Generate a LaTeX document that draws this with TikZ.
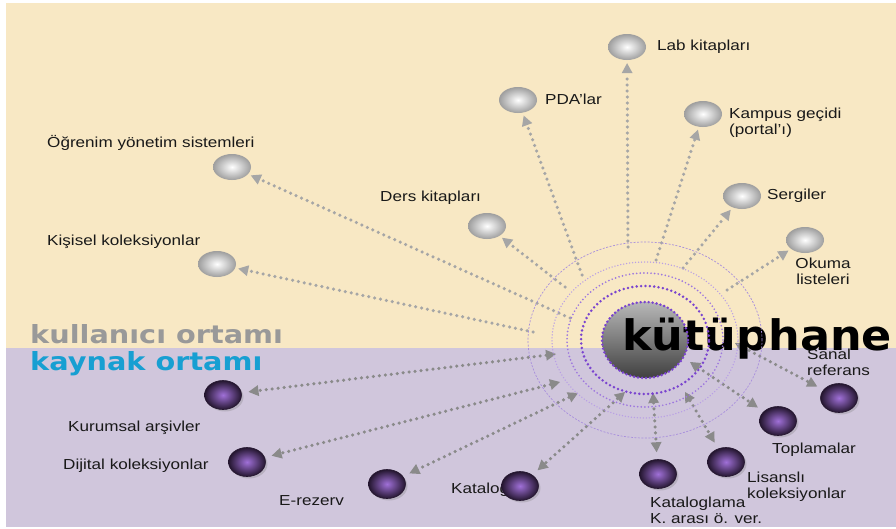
\documentclass[tikz,border=0pt]{standalone}
\usepackage{fontspec}
\usetikzlibrary{shapes.geometric,arrows.meta,shadows}
\newfontfamily\lblfont[FakeStretch=1.18]{Liberation Sans}
\newfontfamily\ttlfont[FakeStretch=1.15]{DejaVu Sans}
\newfontfamily\bigfont[FakeStretch=1.06]{DejaVu Sans}
\definecolor{creambg}{HTML}{F8E8C4}
\definecolor{lavbg}{HTML}{D0C6DC}
\definecolor{ttlgray}{HTML}{999999}
\definecolor{ttlcyan}{HTML}{179FD2}
\definecolor{dotup}{HTML}{A6A6A6}
\definecolor{dotlow}{HTML}{8A8A8A}
\definecolor{purphi}{HTML}{A070D8}
\definecolor{purplo}{HTML}{24162F}
\definecolor{ringout}{HTML}{A88EDC}
\definecolor{ringlt}{HTML}{B89EE6}
\definecolor{ringmid}{HTML}{9E78DE}
\definecolor{ringdk}{HTML}{7A44CF}

\begin{document}
\begin{tikzpicture}[x=1pt, y=-1pt,
  lbl/.style={font=\lblfont\fontsize{14.5}{16}\selectfont, inner sep=0pt,
    anchor=base west, text=black!90, align=left},
  ttl/.style={font=\ttlfont\bfseries\fontsize{25}{25}\selectfont, inner sep=0pt,
    anchor=base west},
  upball/.style={ellipse, minimum width=38pt, minimum height=26pt, inner sep=0pt,
    inner color=white, outer color=black!38},
  lowball/.style={ellipse, minimum width=37pt, minimum height=29pt, inner sep=0pt,
    inner color=purphi, outer color=purplo, draw=purplo, line width=0.6pt,
    drop shadow={shadow xshift=2pt, shadow yshift=-2pt, opacity=0.3}},
  cball/.style={ellipse, minimum width=86pt, minimum height=76pt, inner sep=0pt,
    top color=black!28, bottom color=black!75},
  dots/.style={line width=3.5pt, dash pattern=on 0pt off 6pt, line cap=round},
  uparr/.style={dots, color=dotup, -{Triangle[length=10pt, width=11pt, line width=0pt]},
    shorten >=3pt},
  lowarr/.style={dots, color=dotlow,
    {Triangle[length=10pt, width=11pt, line width=0pt]}-{Triangle[length=10pt, width=11pt, line width=0pt]},
    shorten >=7pt},
]
\useasboundingbox (0,0) rectangle (896,528);
\fill[creambg] (6,3) rectangle (896,348);
\fill[lavbg] (6,348) rectangle (896,527);

\node[ttl, text=ttlgray] (usr) at (30,343) {kullanıcı ortamı};
\node[ttl, text=ttlcyan] (src) at (30,370) {kaynak ortamı};

% user side
\node[upball] (ogr)   at (232,167) {};
\node[upball] (kis)   at (217,264) {};
\node[upball] (ders)  at (487,226) {};
\node[upball] (pda)   at (518,100) {};
\node[upball] (lab)   at (627,47)  {};
\node[upball] (kamp)  at (703,114) {};
\node[upball] (serg)  at (742,196) {};
\node[upball] (okuma) at (805,240) {};

\node[lbl] (l-ogr)   at (47,147)  {Öğrenim yönetim sistemleri};
\node[lbl] (l-kis)   at (47,245)  {Kişisel koleksiyonlar};
\node[lbl] (l-ders)  at (380,201) {Ders kitapları};
\node[lbl] (l-pda)   at (545,104) {PDA’lar};
\node[lbl] (l-lab)   at (657,50)  {Lab kitapları};
\node[lbl] (l-kamp)  at (729,134) {Kampus geçidi\\(portal’ı)};
\node[lbl] (l-serg)  at (767,199) {Sergiler};
\node[lbl, anchor=base, align=center] (l-okuma) at (823,284) {Okuma\\listeleri};

% resource side
\node[lbl] (l-kurum)   at (68,431)  {Kurumsal arşivler};
\node[lbl] (l-dij)     at (63,469)  {Dijital koleksiyonlar};
\node[lbl] (l-erez)    at (279,505) {E-rezerv};
\node[lbl] (l-katalog) at (451,493) {Katalog};
\node[lbl] (l-katlama) at (650,523) {Kataloglama\\K. arası ö. ver.};
\node[lbl] (l-lisans)  at (747,498) {Lisanslı\\koleksiyonlar};
\node[lbl] (l-topla)   at (772,453) {Toplamalar};
\node[lbl] (l-sanal)   at (807,375) {Sanal\\referans};

\node[lowball] (kurum)   at (223,395) {};
\node[lowball] (dij)     at (247,462) {};
\node[lowball] (erez)    at (387,484) {};
\node[lowball] (katalog) at (520,486) {};
\node[lowball] (katlama) at (658,474) {};
\node[lowball] (lisans)  at (726,462) {};
\node[lowball] (topla)   at (778,421) {};
\node[lowball] (sanal)   at (839,398) {};

\coordinate (c-ogr)   at (570,318);
\coordinate (c-kis)   at (533,332);
\coordinate (c-ders)  at (565,287);
\coordinate (c-pda)   at (582,275);
\coordinate (c-lab)   at (628,247);
\coordinate (c-kamp)  at (656,260);
\coordinate (c-serg)  at (683,268);
\coordinate (c-okuma) at (727,290);

\coordinate (c-kurum)   at (556,354);
\coordinate (c-dij)     at (560,382);
\coordinate (c-erez)    at (578,393);
\coordinate (c-katalog) at (625,392);
\coordinate (c-katlama) at (653,393);
\coordinate (c-lisans)  at (685,392);
\coordinate (c-topla)   at (690,362);
\coordinate (c-sanal)   at (735,343);

\path[uparr] (c-ogr) edge (ogr) (c-kis) edge (kis) (c-ders) edge (ders)
  (c-pda) edge (pda) (c-lab) edge (lab) (c-kamp) edge (kamp)
  (c-serg) edge (serg) (c-okuma) edge (okuma);
\path[lowarr] (c-kurum) edge (kurum) (c-dij) edge (dij) (c-erez) edge (erez)
  (c-katalog) edge (katalog) (c-katlama) edge (katlama) (c-lisans) edge (lisans)
  (c-topla) edge (topla) (c-sanal) edge (sanal);

% library core
\node[cball] (kut) at (645,340) {};
\node[inner sep=0pt, anchor=base west, font=\bigfont\bfseries\fontsize{42}{42}\selectfont]
  (kuttxt) at (622,350) {kütüphane};

\draw[ringout, line width=0.7pt, dash pattern=on 2pt off 1.5pt]
  (645,340) ellipse [x radius=117pt, y radius=98pt];
\draw[ringlt, line width=1.5pt, dash pattern=on 0pt off 3pt, line cap=round]
  (645,340) ellipse [x radius=93pt, y radius=78pt];
\draw[ringmid, line width=1.9pt, dash pattern=on 0pt off 3.6pt, line cap=round]
  (645,340) ellipse [x radius=78pt, y radius=67pt];
\draw[ringdk, line width=2.8pt, dash pattern=on 0pt off 4.4pt, line cap=round]
  (645,340) ellipse [x radius=64pt, y radius=54pt];
\draw[ringdk, line width=2.8pt, dash pattern=on 0pt off 4pt, line cap=round]
  (kut.center) ellipse [x radius=43pt, y radius=38pt];
\end{tikzpicture}
\end{document}
